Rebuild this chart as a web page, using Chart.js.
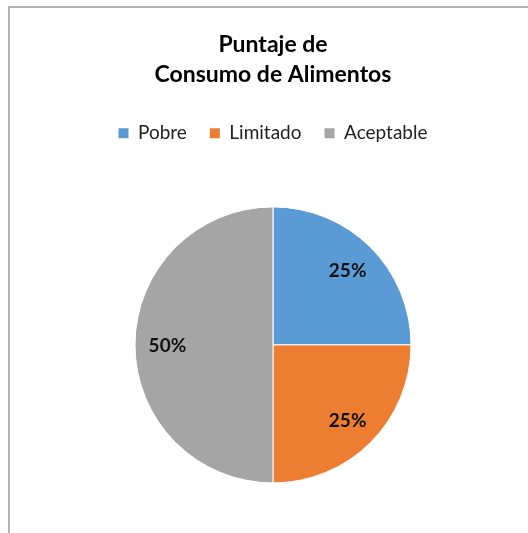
<!DOCTYPE html>
<html lang="es">

<head>
    <meta charset="UTF-8">
    <meta name="viewport" content="width=device-width, initial-scale=1.0">
    <title>Puntaje de Consumo de Alimentos</title>
    <style>
        html, body { margin: 0; padding: 0; overflow: hidden; background: #fff; }
        #marco { position: absolute; left: 8px; top: 6px; width: 540px; height: 560px;
                 border-top: 2px solid #b4b4b4; border-left: 2px solid #b4b4b4; }
        #caja { position: absolute; left: 0; top: 0; width: 528px; height: 545px; }
    </style>
</head>

<body>
    <div id="marco"></div>
    <div id="caja">
        <canvas id="myChart"></canvas>
    </div>
    <script src="https://cdn.jsdelivr.net/npm/chart.js"></script>
    <script>
        let categorias = ["Pobre", "Limitado", "Aceptable"];
        let porcentajes = [25, 25, 50];
        let colores = ["#5B9BD5", "#ED7D31", "#A5A5A5"];
        let titulo = ["Puntaje de", "Consumo de Alimentos"];

        const ctx = document.getElementById('myChart');

        // etiquetas de porcentaje dentro de cada rebanada
        const etiquetas = {
            id: 'etiquetas',
            afterDatasetsDraw(chart) {
                let c = chart.ctx;
                let meta = chart.getDatasetMeta(0);
                let total = porcentajes.reduce((a, b) => a + b, 0);
                c.save();
                c.font = 'bold 19px Lato';
                c.fillStyle = '#111';
                c.textAlign = 'center';
                c.textBaseline = 'middle';
                meta.data.forEach((arco, i) => {
                    let ang = (arco.startAngle + arco.endAngle) / 2;
                    let r = arco.outerRadius * 0.765;
                    let x = arco.x + Math.cos(ang) * r;
                    let y = arco.y + Math.sin(ang) * r + 1;
                    let txt = Math.round(porcentajes[i] / total * 100) + '%';
                    c.fillText(txt, x, y);
                });
                c.restore();
            }
        };

        const etiquetasLeyenda = Chart.overrides.pie.plugins.legend.labels.generateLabels;

        new Chart(ctx, {
            type: 'pie',
            data: {
                labels: categorias,
                datasets: [{
                    data: porcentajes,
                    backgroundColor: colores,
                    borderColor: '#fff',
                    borderWidth: 1,
                    radius: 138
                }]
            },
            options: {
                responsive: true,
                maintainAspectRatio: false,
                animation: false,
                layout: {
                    padding: { left: 28, right: 10, top: 0, bottom: 8 }
                },
                plugins: {
                    title: {
                        display: true,
                        text: titulo,
                        color: '#000',
                        font: { family: 'Lato', size: 23, weight: 'bold', lineHeight: 1.3 },
                        padding: { top: 30, bottom: 11 }
                    },
                    legend: {
                        display: true,
                        position: 'top',
                        labels: {
                            color: '#222',
                            font: { family: 'Lato', size: 19 },
                            boxWidth: 10,
                            boxHeight: 10,
                            padding: 23,
                            generateLabels(chart) {
                                let items = etiquetasLeyenda(chart);
                                items.forEach(it => { it.lineWidth = 0; });
                                return items;
                            }
                        }
                    },
                    tooltip: { enabled: false }
                }
            },
            plugins: [etiquetas]
        });
    </script>
</body>

</html>
